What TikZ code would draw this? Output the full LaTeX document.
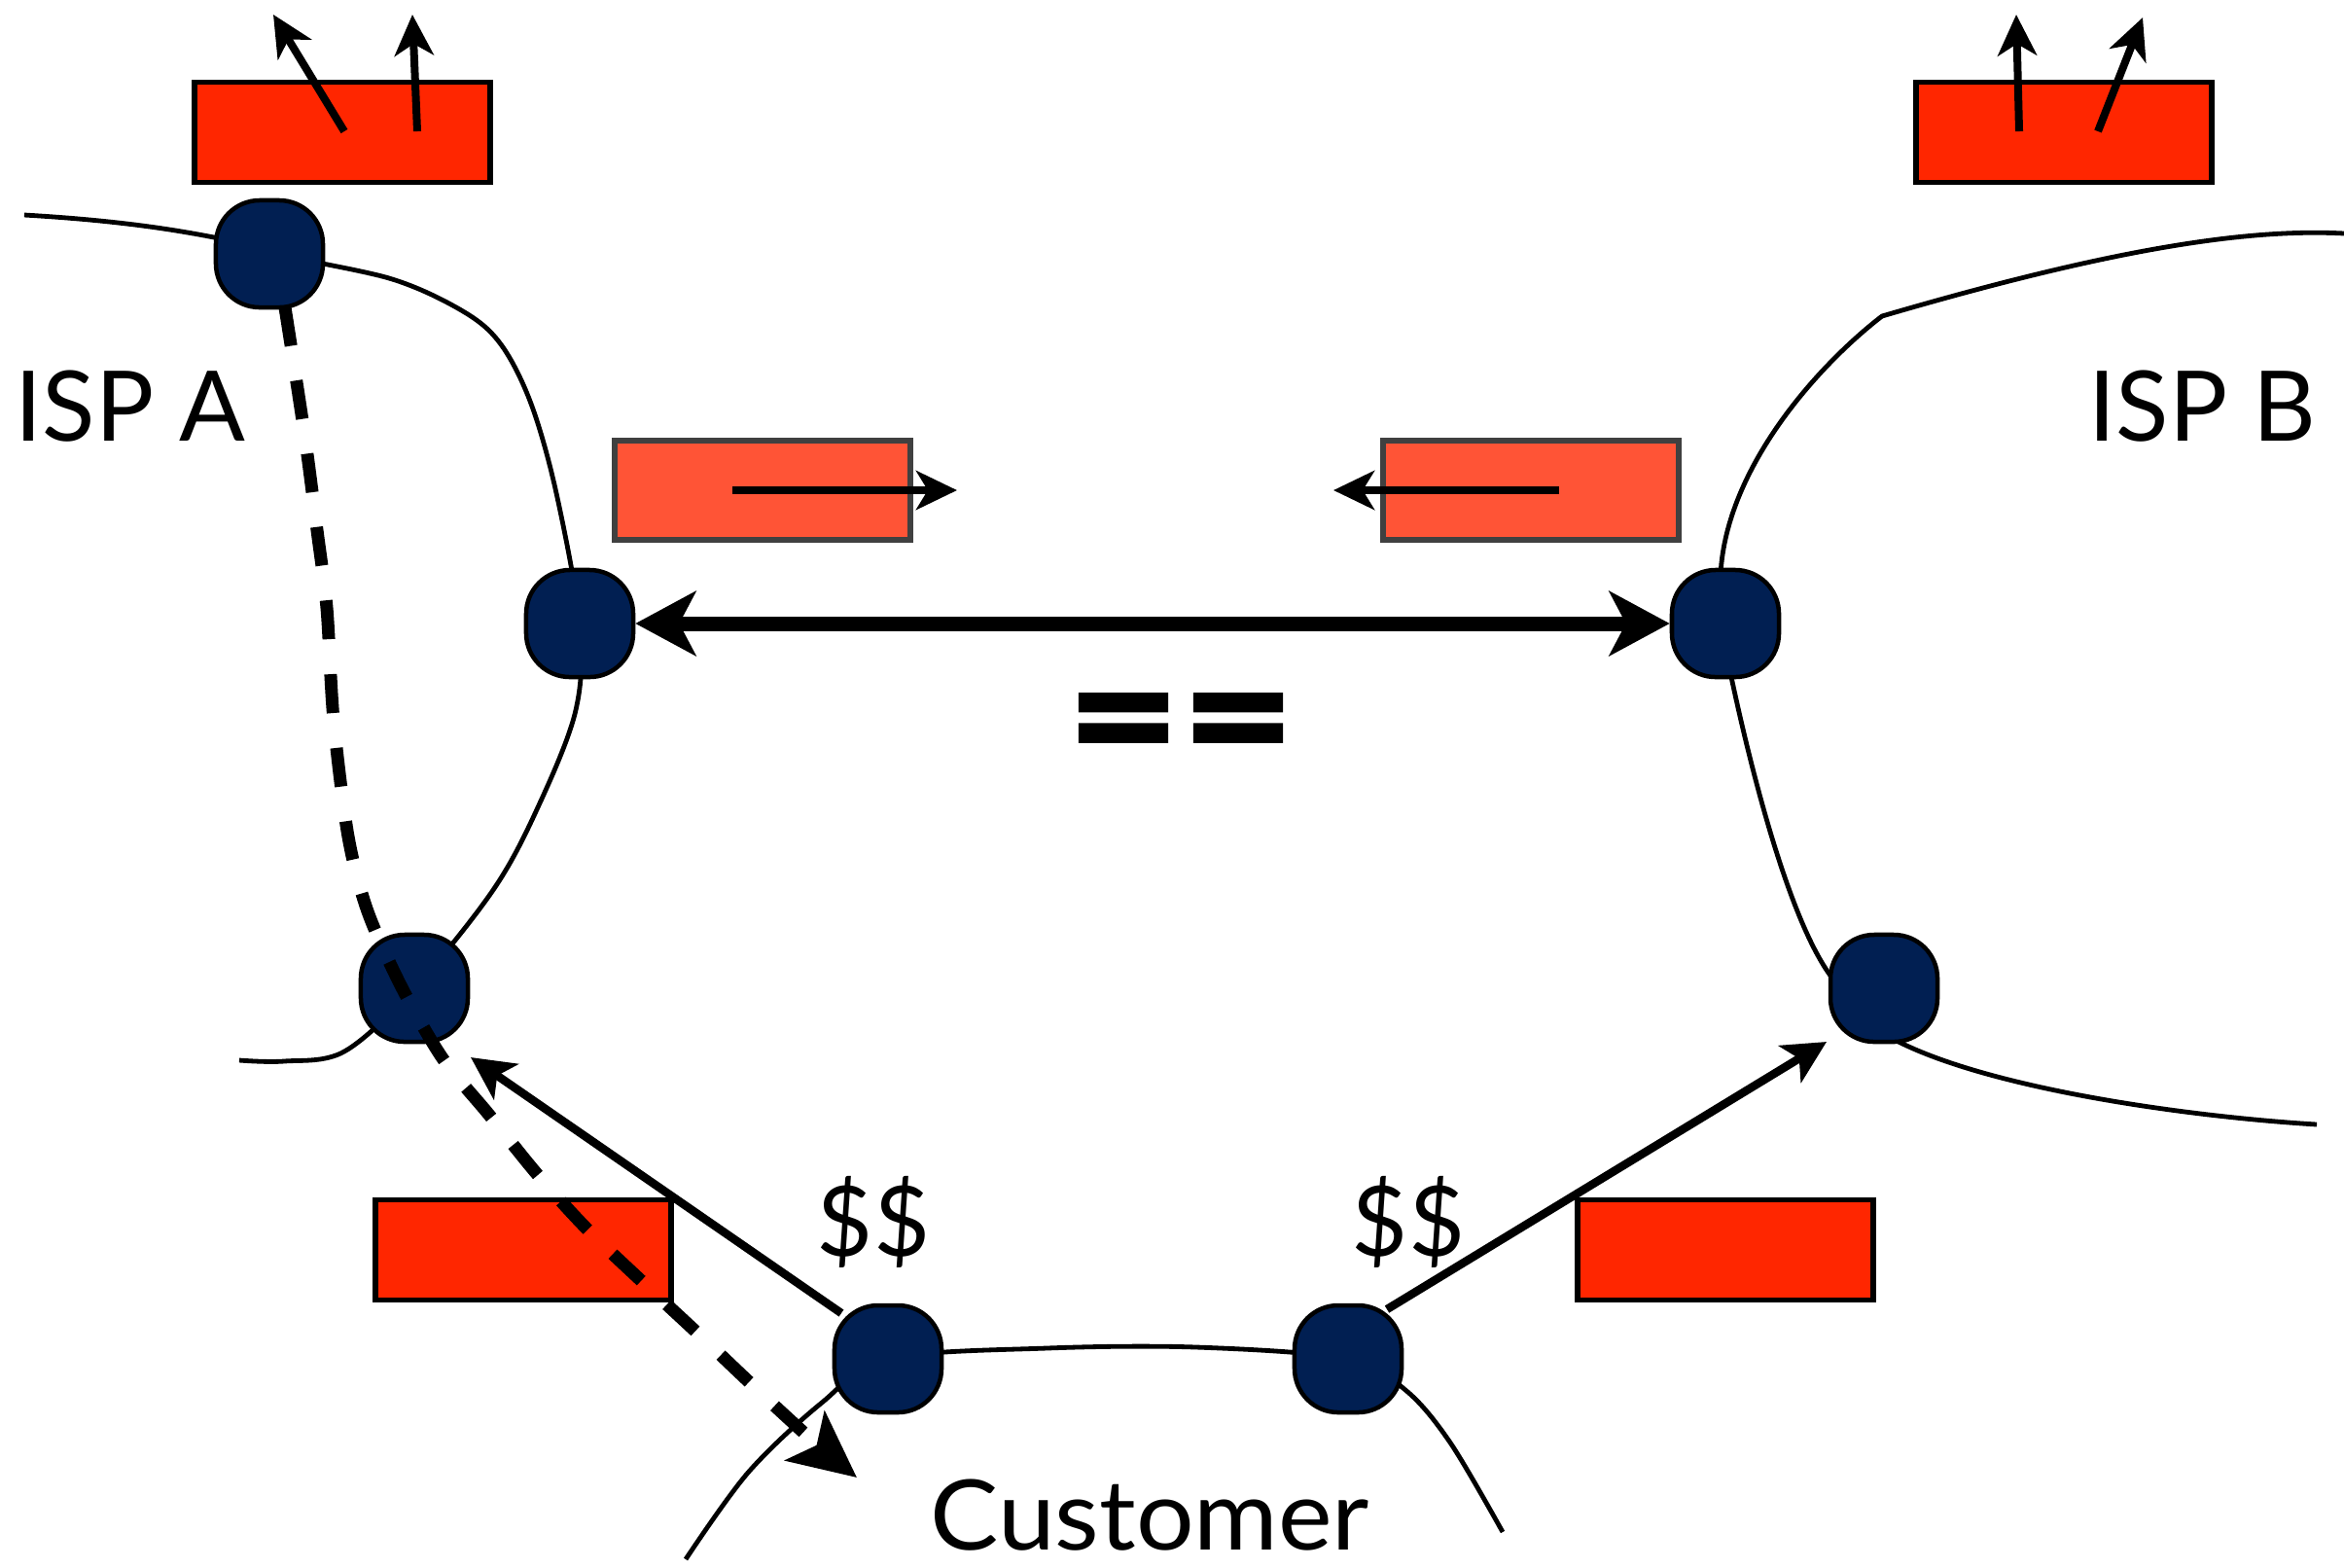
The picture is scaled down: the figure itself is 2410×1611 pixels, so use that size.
\documentclass[tikz,border=0pt]{standalone}
\usepackage{fontspec}
\setmainfont{Lato}
\newfontfamily\eqfont[FakeBold=3]{DejaVu Sans Bold}
\usetikzlibrary{arrows.meta}
\pgfdeclarelayer{background}
\pgfsetlayers{background,main}
\definecolor{navy}{RGB}{1,31,82}
\definecolor{redbox}{RGB}{255,38,0}
\definecolor{pinkbox}{RGB}{255,84,54}
\definecolor{pinkedge}{RGB}{64,64,64}
\begin{document}
\begin{tikzpicture}[x=0.01cm,y=-0.01cm,
  router/.style={draw=black, line width=0.045cm, fill=navy, rounded corners=0.45cm, minimum size=1.1cm, inner sep=0pt},
  redrect/.style={draw=black, line width=0.055cm, fill=redbox, minimum width=3.04cm, minimum height=1.03cm, inner sep=0pt},
  pinkrect/.style={draw=pinkedge, line width=0.055cm, fill=pinkbox, minimum width=3.04cm, minimum height=1.02cm, inner sep=0pt},
  ispline/.style={line width=0.048cm},
  smallarrow/.style={line width=0.08cm, -{Stealth[length=0.42cm,width=0.4cm,inset=0.12cm]}},
  medarrow/.style={line width=0.085cm, -{Stealth[length=0.44cm,width=0.44cm,inset=0.11cm]}},
  bigarrow/.style={line width=0.15cm, {Stealth[length=0.62cm,width=0.66cm,inset=0.17cm]}-{Stealth[length=0.62cm,width=0.66cm,inset=0.17cm]}},
  dasharrow/.style={line width=0.13cm, dash pattern=on 0.40cm off 0.36cm, -{Stealth[length=0.68cm,width=0.64cm,inset=0.15cm]}},
  label/.style={inner sep=0pt, font=\fontsize{28.5}{34}\selectfont}
]
\useasboundingbox (0,0) rectangle (2410,1611);

% boxes
\node[redrect] (boxTL) at (352,136) {};
\node[redrect] (boxTR) at (2122,136) {};
\node[pinkrect] (boxPL) at (784,504) {};
\node[pinkrect] (boxPR) at (1574,504) {};
\node[redrect] (boxBL) at (538,1285) {};
\node[redrect] (boxBR) at (1774,1285) {};

% routers
\node[router] (A1) at (277,261) {};
\node[router] (A2) at (596,641) {};
\node[router] (A3) at (426,1016) {};
\node[router] (B1) at (1774,641) {};
\node[router] (B2) at (1937,1016) {};
\node[router] (C1) at (913,1397) {};
\node[router] (C2) at (1386,1397) {};

% network outlines
\begin{pgfonlayer}{background}
\draw[ispline] (25,221) .. controls (110,226) and (170,234) .. (225,245) -- (A1.center) -- (332,268);
\draw[ispline] plot[smooth, tension=0.55] coordinates {(A1) (400,286) (476,320) (515,354) (546,415) (572,507) (A2) (592,730) (553,830) (507,915) (A3) (354,1081) (292,1091) (246,1090)};
\draw[ispline] (2410,240) .. controls (2300,234) and (2150,262) .. (1935,325)
  .. controls (1870,375) and (1775,480) .. (1769,590) -- (B1.center) -- (1780,696)
  .. controls (1800,790) and (1840,950) .. (1885,1007) -- (1906,1042) -- (1952,1071)
  .. controls (2050,1120) and (2250,1148) .. (2382,1156);
\draw[ispline] plot[smooth, tension=0.55] coordinates {(705,1603) (769,1514) (845,1442) (C1) (1076,1386) (1230,1385) (C2) (1445,1429) (1491,1483) (1545,1575)};
\end{pgfonlayer}

% arrows out of top boxes
\coordinate (tl1s) at (354,135); \coordinate (tl1e) at (281,15);
\coordinate (tl2s) at (429,135); \coordinate (tl2e) at (424,15);
\coordinate (tr1s) at (2076,135); \coordinate (tr1e) at (2073,15);
\coordinate (tr2s) at (2157,135); \coordinate (tr2e) at (2203,18);
\draw[smallarrow] (tl1s) -- (tl1e);
\draw[smallarrow] (tl2s) -- (tl2e);
\draw[smallarrow] (tr1s) -- (tr1e);
\draw[smallarrow] (tr2s) -- (tr2e);

% pink box arrows
\coordinate (pl1s) at (753,504); \coordinate (pl1e) at (984,504);
\coordinate (pr1s) at (1603,504); \coordinate (pr1e) at (1371,504);
\draw[smallarrow, line width=0.075cm] (pl1s) -- (pl1e);
\draw[smallarrow, line width=0.075cm] (pr1s) -- (pr1e);

% peering link
\draw[bigarrow] (A2.east) -- (B1.west);

% customer links
\coordinate (c1s) at (865,1350); \coordinate (c1e) at (484,1087);
\coordinate (c2s) at (1426,1346); \coordinate (c2e) at (1878,1071);
\draw[medarrow] (c1s) -- (c1e);
\draw[medarrow] (c2s) -- (c2e);

% dashed route
\draw[dasharrow] plot[smooth, tension=0.5] coordinates {(293,316) (303,380) (315,460) (326,545) (336,625) (343,740) (358,860) (378,937) (413,1015) (455,1088) (502,1145) (553,1208) (605,1265) (665,1322) (722,1375) (780,1430) (840,1485) (881,1519)};

% labels
\node[label, anchor=base west] (ispA) at (15,453) {ISP A};
\node[label, anchor=base west] (ispB) at (2147,453) {ISP B};
\node[label] (dollarL) at (898,1256) {\$\$};
\node[label] (dollarR) at (1448,1256) {\$\$};
\node[label, anchor=base west, xscale=1.05] (cust) at (956,1593) {Customer};
\node[inner sep=0pt, font=\eqfont\fontsize{40}{40}\selectfont] (eq) at (1214,748) {==};
\end{tikzpicture}
\end{document}
